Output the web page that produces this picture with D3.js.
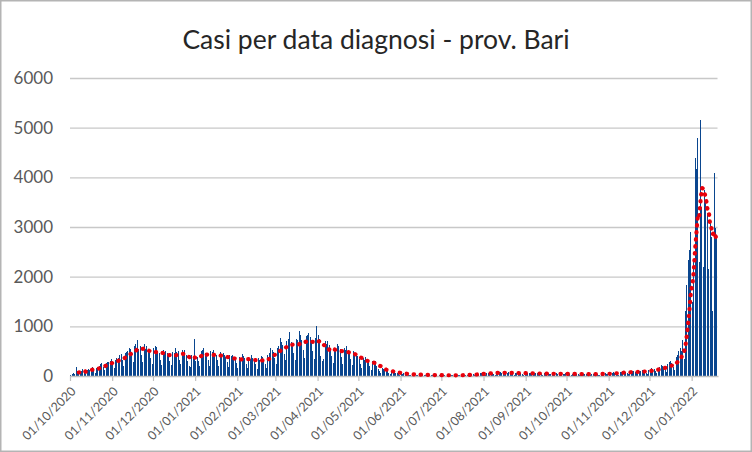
<!DOCTYPE html>
<html>
<head>
<meta charset="utf-8">
<script src="https://cdn.jsdelivr.net/npm/d3@7"></script>
<style>
  html, body { margin: 0; padding: 0; background: #fff; }
  svg { display: block; }
</style>
</head>
<body>
<svg id="chart" width="752" height="452"></svg>
<script>
// ---------- DATA ----------
const title = "Casi per data diagnosi - prov. Bari";
const startDay = "2020-10-01";            // first category (daily)
const maWindow = 7;                        // moving-average period (trendline)
const yTicks = [0, 1000, 2000, 3000, 4000, 5000, 6000];

// daily new cases, from 01/10/2020 to 19/01/2022
const cases = [
  // Oct 2020
  25, 40, 65, 35, 180, 70, 85,
  60, 110, 140, 90, 50, 130, 150,
  120, 160, 190, 110, 70, 170, 180,
  200, 250, 270, 180, 120, 260, 290,
  280, 310, 350, 240, 170, 330, 360,
  370, 420, 440, 320, 210, 460, 480,
  510, 560, 540, 420, 280, 600, 650,
  720, 540, 600, 430, 290, 650, 540,
  600, 520, 480, 360, 250, 560, 600,
  580, 500, 470, 330, 230, 520, 480,
  500, 460, 440, 300, 220, 480, 460,
  560, 480, 500, 330, 240, 530, 470,
  520, 430, 300, 200, 180, 420, 380,
  740, 300, 380, 310, 200, 500, 520,
  560, 470, 450, 330, 210, 510, 480,
  520, 460, 430, 320, 200, 480, 450,
  470, 420, 380, 280, 180, 420, 400,
  430, 390, 350, 260, 160, 380, 360,
  450, 400, 360, 250, 170, 390, 340,
  420, 360, 330, 240, 150, 360, 330,
  400, 380, 340, 250, 170, 420, 470,
  560, 520, 480, 360, 240, 560, 600,
  760, 680, 620, 450, 320, 700, 740,
  880, 680, 640, 470, 320, 740, 720,
  900, 820, 720, 520, 360, 800, 820,
  860, 780, 700, 500, 340, 760, 1000,
  820, 740, 400, 300, 350, 700, 650,
  700, 620, 560, 400, 260, 560, 540,
  640, 600, 540, 380, 250, 560, 520,
  600, 520, 480, 340, 220, 500, 440,
  460, 400, 340, 250, 160, 360, 320,
  380, 330, 280, 200, 120, 300, 260,
  300, 200, 150, 110, 70, 160, 140,
  150, 120, 100, 70, 40, 90, 80,
  90, 70, 60, 45, 25, 55, 50,
  60, 45, 40, 25, 15, 30, 35,
  40, 30, 25, 20, 10, 28, 30,
  35, 25, 20, 15, 8, 22, 25,
  25, 20, 18, 12, 6, 18, 20,
  22, 18, 15, 10, 5, 16, 18,
  20, 16, 14, 9, 6, 15, 17,
  25, 22, 20, 14, 8, 24, 30,
  40, 36, 34, 25, 15, 40, 45,
  60, 55, 50, 38, 22, 58, 62,
  75, 70, 65, 48, 28, 72, 75,
  80, 72, 68, 50, 30, 75, 70,
  75, 68, 62, 45, 26, 70, 66,
  72, 66, 60, 44, 25, 68, 64,
  68, 60, 55, 40, 24, 62, 58,
  62, 56, 52, 38, 22, 56, 52,
  58, 52, 48, 35, 20, 52, 48,
  56, 50, 46, 33, 20, 50, 46,
  55, 48, 44, 32, 18, 48, 44,
  52, 46, 42, 30, 18, 46, 42,
  50, 44, 40, 28, 16, 44, 42,
  54, 48, 44, 30, 18, 48, 46,
  60, 54, 50, 36, 20, 56, 60,
  75, 70, 65, 45, 26, 72, 80,
  95, 88, 80, 55, 32, 90, 95,
  105, 95, 88, 60, 35, 100, 105,
  120, 110, 100, 70, 40, 120, 130,
  160, 150, 140, 95, 60, 170, 180,
  230, 210, 180, 120, 80, 250,
  280, 300, 260, 180, 120, 380, 420,
  500, 560, 500, 720, 350, 1300, 1830,
  2330, 2530, 2900,
  // Jan 2022
  1500, 2300, 4380, 4170, 4800, 2300, 5150,
  3400, 2200, 3740, 3540, 3280, 2150, 3140,
  2800, 1300, 4090, 2970, 2770
];

// ---------- LAYOUT ----------
const W = 752, H = 452;
const plot = { left: 70, right: 717.5, top: 78, bottom: 376 };

const svg = d3.select("#chart");

// outer border
svg.append("rect")
  .attr("x", 0.75).attr("y", 0.75)
  .attr("width", W - 1.5).attr("height", H - 1.5)
  .attr("fill", "#fff").attr("stroke", "#b4b4b4").attr("stroke-width", 1.5);

const parse = d3.utcParse("%Y-%m-%d");
const start = parse(startDay);
const dates = d3.utcDay.range(start, d3.utcDay.offset(start, cases.length));
const end = d3.utcDay.offset(start, cases.length);

const x = d3.scaleUtc().domain([start, end]).range([plot.left, plot.right]);
const y = d3.scaleLinear().domain([0, 6000]).range([plot.bottom, plot.top]);

// gridlines + y labels
const yAxis = d3.axisLeft(y).tickValues(yTicks).tickSize(-(plot.right - plot.left)).tickPadding(17)
  .tickFormat(d3.format("d"));
const gy = svg.append("g").attr("transform", `translate(${plot.left},0)`).call(yAxis);
gy.select(".domain").remove();
gy.selectAll(".tick line").attr("stroke", "#c8c8c8").attr("stroke-width", 1.3)
  .filter(d => d === 0).remove();
gy.selectAll(".tick text")
  .attr("fill", "#595959")
  .style("font-family", "Lato, 'Open Sans', sans-serif")
  .style("font-size", "17px");

// bars
const dayW = x(d3.utcDay.offset(start, 1)) - x(start);
const barW = 1;
svg.append("g").attr("shape-rendering", "crispEdges").selectAll("rect")
  .data(cases)
  .join("rect")
  .attr("x", (d, i) => x(dates[i]) + (dayW - barW) / 2)
  .attr("y", d => y(d))
  .attr("width", barW)
  .attr("height", d => y(0) - y(d))
  .attr("fill", "#0a468f");

// x axis
const months = d3.utcMonth.range(start, d3.utcDay.offset(end, 1));
const xAxis = d3.axisBottom(x).tickValues(months).tickSize(5).tickPadding(0)
  .tickFormat(d3.utcFormat("%d/%m/%Y"));
const gx = svg.append("g").attr("transform", `translate(0,${plot.bottom})`).call(xAxis);
gx.select(".domain").attr("stroke", "#c0c0c0").attr("stroke-width", 1.3)
  .attr("d", `M${plot.left},0.5H${plot.right + 1}`);
gx.selectAll(".tick line").attr("stroke", "#c0c0c0").attr("stroke-width", 1.2);
gx.selectAll(".tick text")
  .attr("fill", "#595959")
  .style("font-family", "Lato, 'Open Sans', sans-serif")
  .style("font-size", "12.5px")
  .attr("text-anchor", "end")
  .attr("y", 0).attr("dy", "0.35em")
  .attr("transform", "translate(3,13) rotate(-45)");

// moving average trendline (period 7)
const ma = cases.map((d, i) => i < maWindow - 1 ? null : d3.mean(cases.slice(i - maWindow + 1, i + 1)));
const line = d3.line()
  .defined(d => d !== null)
  .x((d, i) => x(dates[i]) + dayW / 2)
  .y(d => y(d));
svg.append("path")
  .datum(ma)
  .attr("d", line)
  .attr("fill", "none")
  .attr("stroke", "#e8000b")
  .attr("stroke-width", 4.2)
  .attr("stroke-linecap", "round")
  .attr("stroke-dasharray", "0.4 6.6");

// title
svg.append("text")
  .attr("x", 376).attr("y", 49)
  .attr("text-anchor", "middle")
  .attr("fill", "#262626")
  .style("font-family", "Lato, 'Open Sans', sans-serif")
  .style("font-size", "26.5px")
  .text(title);
</script>
</body>
</html>
